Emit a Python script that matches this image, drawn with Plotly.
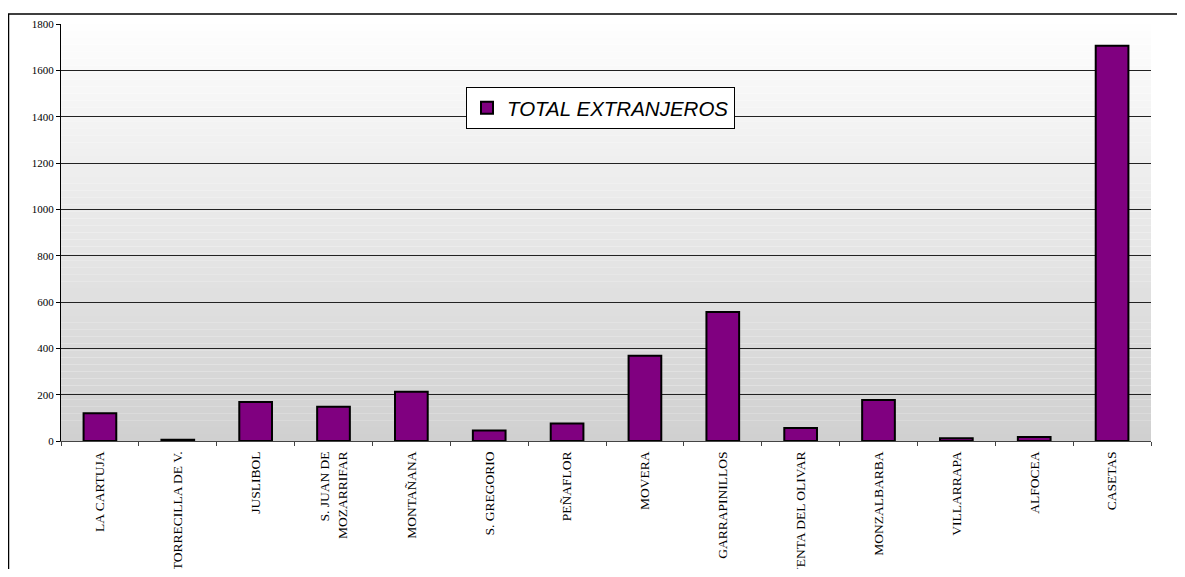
import plotly.graph_objects as go

categories = ["LA CARTUJA", "TORRECILLA DE V.", "JUSLIBOL", "S. JUAN DE<br>MOZARRIFAR",
              "MONTAÑANA", "S. GREGORIO", "PEÑAFLOR", "MOVERA", "GARRAPINILLOS",
              "VENTA DEL OLIVAR", "MONZALBARBA", "VILLARRAPA", "ALFOCEA", "CASETAS"]
values = [120, 5, 168, 148, 213, 45, 76, 368, 557, 56, 177, 12, 17, 1706]
series_name = "TOTAL EXTRANJEROS"
y_ticks = [0, 200, 400, 600, 800, 1000, 1200, 1400, 1600, 1800]

# page body has an 8px margin, so the figure is laid out in its own coordinates
W, H = 1169, 561
L, R, T, B = 53, 26, 16, 128
pw, ph = W - L - R, H - T - B

def px_x(x):
    return (x - L) / pw

def px_y(y):
    return (H - B - y) / ph

fig = go.Figure()
fig.add_trace(go.Bar(
    x=categories, y=values, name=series_name,
    marker=dict(color="#800080", line=dict(color="black", width=2)),
    showlegend=True,
))

shapes = []
n = 60
for i in range(n):
    t = i / n
    c = int(round(208 + (254 - 208) * (t + 0.5 / n)))
    shapes.append(dict(type="rect", xref="paper", yref="paper", x0=0, x1=1,
                       y0=t, y1=(i + 1) / n, line=dict(width=0),
                       fillcolor=f"rgb({c},{c},{c})", layer="below"))
# outer chart frame
shapes.append(dict(type="rect", xref="paper", yref="paper",
                   x0=px_x(0.5), x1=px_x(1250), y0=px_y(640), y1=px_y(6),
                   line=dict(color="black", width=1.5), fillcolor="rgba(0,0,0,0)",
                   layer="above"))

fig.update_layout(
    width=W, height=H,
    margin=dict(l=L, r=R, t=T, b=B, pad=0, autoexpand=False),
    paper_bgcolor="white", plot_bgcolor="rgba(0,0,0,0)",
    bargap=0.58,
    shapes=shapes,
    font=dict(family="Liberation Serif", color="black"),
    legend=dict(x=px_x(458), y=px_y(79), xanchor="left", yanchor="top",
                bgcolor="white", bordercolor="black", borderwidth=1,
                font=dict(family="Liberation Sans", size=20.5, style="italic", color="black"),
                itemsizing="constant"),
    xaxis=dict(
        type="category", tickangle=-90, tickfont=dict(size=13.5, family="Liberation Serif"),
        showline=True, linecolor="#444", linewidth=1, showgrid=False,
        ticks="outside", ticklen=4, tickcolor="#444", tickson="boundaries",
        ticklabelstandoff=4,
        range=[-0.5, len(categories) - 0.5], fixedrange=True, automargin=False,
    ),
    yaxis=dict(
        range=[0, 1800], tickvals=y_ticks, tickfont=dict(size=11, family="Liberation Serif"),
        showline=True, linecolor="black", linewidth=1,
        ticks="outside", ticklen=4, tickcolor="black", automargin=False,
        showgrid=True, gridcolor="#222", gridwidth=1, zeroline=False,
    ),
)

fig.write_html("out.html")
